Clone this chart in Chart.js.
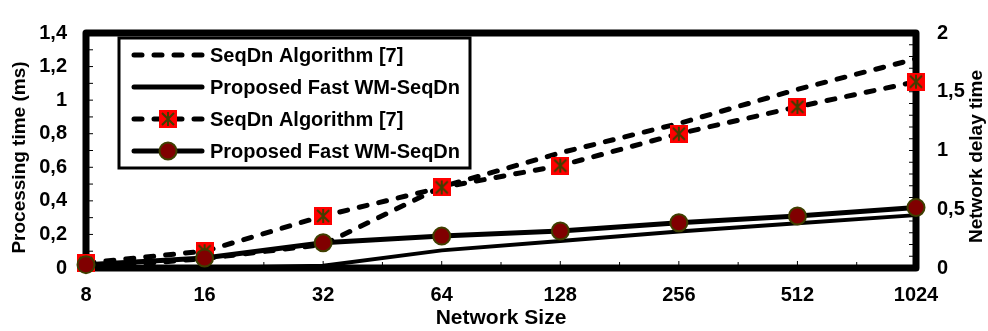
<!DOCTYPE html>
<html>
<head>
<meta charset="utf-8">
<script src="https://cdn.jsdelivr.net/npm/chart.js@4"></script>
<style>
  html, body { margin: 0; padding: 0; background: #fff; }
</style>
</head>
<body>
<canvas id="chart" width="988" height="331"></canvas>
<script>
// x categories
const sizes = ['8', '16', '32', '64', '128', '256', '512', '1024'];

// network delay time (right axis)
const seqDnDelay = [0, 0.08, 0.20, 0.69, 0.98, 1.23, 1.52, 1.78];
const fastDelay  = [0, 0, 0.02, 0.15, 0.23, 0.31, 0.38, 0.45];

// processing time in ms (left axis)
const seqDnProc = [0.03, 0.10, 0.31, 0.48, 0.61, 0.80, 0.96, 1.11];
const fastProc  = [0.02, 0.06, 0.15, 0.19, 0.22, 0.27, 0.31, 0.36];

const labelSeqDn = 'SeqDn Algorithm [7]';
const labelFast  = 'Proposed Fast WM-SeqDn';
const leftTitle  = 'Processing time (ms)';
const rightTitle = 'Network delay time';

const FONT = '"Liberation Sans", Arial, sans-serif';

function comma(v) {
    return String(+v.toFixed(1)).replace('.', ',');
}

// red square with a dark asterisk
function squareMarker() {
    const s = 18;
    const c = document.createElement('canvas');
    c.width = s; c.height = s;
    const g = c.getContext('2d');
    g.fillStyle = '#ff0000';
    g.fillRect(0, 0, s, s);
    g.strokeStyle = '#3f3f00';
    g.lineWidth = 2;
    g.beginPath();
    g.moveTo(3, 3); g.lineTo(15, 15);
    g.moveTo(15, 3); g.lineTo(3, 15);
    g.moveTo(9, 2); g.lineTo(9, 16);
    g.stroke();
    return c;
}
const sq = squareMarker();

function vTitle(ctx, text, x, y) {
    ctx.save();
    ctx.translate(x, y);
    ctx.rotate(-Math.PI / 2);
    ctx.font = 'bold 19px ' + FONT;
    ctx.fillStyle = '#000';
    ctx.textAlign = 'center';
    ctx.textBaseline = 'middle';
    ctx.fillText(text, 0, 0);
    ctx.restore();
}

// thick frame + little inward ticks + both y titles (read bottom to top)
const frame = {
    id: 'frame',
    beforeDatasetsDraw(chart) {
        const { ctx, chartArea: a, scales } = chart;
        ctx.save();
        ctx.strokeStyle = '#000';
        ctx.lineWidth = 1;
        ctx.beginPath();
        for (let v = 0.1; v < 1.4; v += 0.1) {
            const y = scales.y.getPixelForValue(v);
            ctx.moveTo(a.left, y); ctx.lineTo(a.left + 7, y);
        }
        for (let v = 0.1; v < 2; v += 0.1) {
            const y = scales.y1.getPixelForValue(v);
            ctx.moveTo(a.right - 7, y); ctx.lineTo(a.right, y);
        }
        for (let i = 0; i < sizes.length; i++) {
            const x = scales.x.getPixelForValue(i);
            ctx.moveTo(x, a.bottom); ctx.lineTo(x, a.bottom - 7);
            if (i < sizes.length - 1) {
                const xm = (x + scales.x.getPixelForValue(i + 1)) / 2;
                ctx.moveTo(xm, a.bottom); ctx.lineTo(xm, a.bottom - 6);
            }
        }
        ctx.stroke();
        ctx.lineWidth = 7;
        ctx.lineJoin = 'round';
        ctx.strokeRect(a.left, a.top, a.right - a.left, a.bottom - a.top);
        ctx.restore();

        const mid = (a.top + a.bottom) / 2 + 7;
        vTitle(ctx, leftTitle, scales.y.left + 20, mid);
        vTitle(ctx, rightTitle, scales.y1.right - 11, mid - 1);
    }
};

// boxed legend inside the plot
const legendBox = {
    id: 'legendBox',
    afterDatasetsDraw(chart) {
        const { ctx, chartArea: a } = chart;
        const x = a.left + 33, y = a.top + 5, w = 351, h = 130;
        ctx.save();
        ctx.fillStyle = '#fff';
        ctx.fillRect(x, y, w, h);
        ctx.lineWidth = 3;
        ctx.strokeStyle = '#000';
        ctx.strokeRect(x, y, w, h);

        ctx.font = 'bold 20px ' + FONT;
        ctx.textBaseline = 'middle';
        chart.data.datasets.forEach((ds, i) => {
            const ry = y + 17 + i * 32;
            ctx.strokeStyle = '#000';
            ctx.lineWidth = 5;
            ctx.lineCap = 'round';
            ctx.setLineDash(ds.borderDash || []);
            ctx.beginPath();
            ctx.moveTo(x + 15, ry);
            ctx.lineTo(x + 83, ry);
            ctx.stroke();
            ctx.setLineDash([]);
            const mx = x + 49;
            if (ds.pointStyle === sq) {
                ctx.drawImage(sq, mx - 9, ry - 9);
            } else if (ds.pointRadius > 0) {
                ctx.beginPath();
                ctx.arc(mx, ry, ds.pointRadius, 0, Math.PI * 2);
                ctx.fillStyle = ds.pointBackgroundColor;
                ctx.fill();
                ctx.lineWidth = ds.pointBorderWidth;
                ctx.strokeStyle = ds.pointBorderColor;
                ctx.stroke();
            }
            ctx.fillStyle = '#000';
            ctx.fillText(ds.label, x + 91, ry + 1);
        });
        ctx.restore();
    }
};

const tickFont = { family: FONT, size: 20, weight: 'bold' };

new Chart(document.getElementById('chart'), {
    type: 'line',
    data: {
        labels: sizes,
        datasets: [
            {
                label: labelSeqDn,
                data: seqDnDelay,
                yAxisID: 'y1',
                borderColor: '#000',
                borderWidth: 5,
                borderDash: [8, 12],
                borderCapStyle: 'round',
                pointRadius: 0,
                tension: 0,
                clip: false,
                order: 2
            },
            {
                label: labelFast,
                data: fastDelay,
                yAxisID: 'y1',
                borderColor: '#000',
                borderWidth: 4,
                pointRadius: 0,
                tension: 0,
                clip: false,
                order: 2
            },
            {
                label: labelSeqDn,
                data: seqDnProc,
                yAxisID: 'y',
                borderColor: '#000',
                borderWidth: 5,
                borderDash: [8, 12],
                borderCapStyle: 'round',
                pointStyle: sq,
                pointRadius: 9,
                tension: 0,
                clip: false,
                order: 1
            },
            {
                label: labelFast,
                data: fastProc,
                yAxisID: 'y',
                borderColor: '#000',
                borderWidth: 5,
                pointStyle: 'circle',
                pointRadius: 8.5,
                pointBackgroundColor: '#800000',
                pointBorderColor: '#3f3f00',
                pointBorderWidth: 2,
                tension: 0,
                clip: false,
                order: 0
            }
        ]
    },
    options: {
        responsive: false,
        devicePixelRatio: 1,
        animation: false,
        layout: { padding: { top: 20, left: 0, right: 0, bottom: 0 } },
        plugins: {
            legend: { display: false },
            tooltip: { enabled: false }
        },
        scales: {
            x: {
                type: 'category',
                offset: false,
                grid: { display: false, drawTicks: false },
                border: { display: false },
                ticks: { color: '#000', font: tickFont, padding: 15, maxRotation: 0 },
                title: {
                    display: true, text: 'Network Size', color: '#000',
                    font: { family: FONT, size: 21, weight: 'bold' },
                    padding: { top: 0, bottom: 0 }
                },
                afterFit: s => { s.height = 63; }
            },
            y: {
                position: 'left',
                min: 0, max: 1.4,
                grid: { display: false, drawTicks: false },
                border: { display: false },
                ticks: { stepSize: 0.2, color: '#000', font: tickFont, padding: 19, callback: comma },
                afterFit: s => { s.width = 86; }
            },
            y1: {
                position: 'right',
                min: 0, max: 2,
                grid: { display: false, drawTicks: false },
                border: { display: false },
                ticks: { stepSize: 0.5, color: '#000', font: tickFont, padding: 21, callback: comma },
                afterFit: s => { s.width = 72; }
            }
        }
    },
    plugins: [frame, legendBox]
});
</script>
</body>
</html>
